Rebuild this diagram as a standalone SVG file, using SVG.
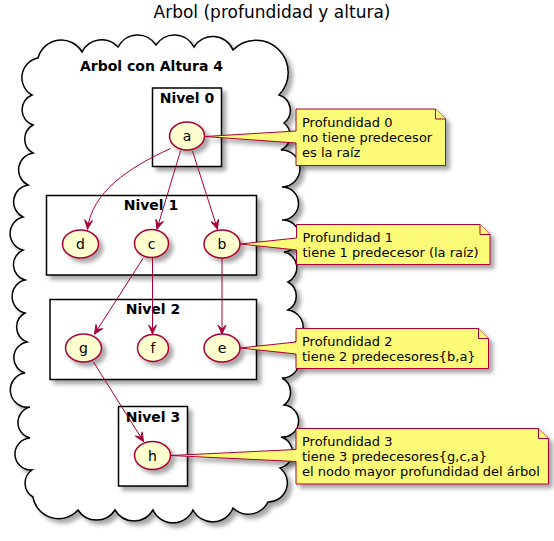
<svg xmlns="http://www.w3.org/2000/svg" width="554" height="541" viewBox="0 0 554 541">
<defs>
<filter id="sh" x="-20%" y="-20%" width="150%" height="150%">
<feGaussianBlur in="SourceAlpha" stdDeviation="2"/>
<feOffset dx="4" dy="4"/>
<feComponentTransfer><feFuncA type="linear" slope="0.35"/></feComponentTransfer>
<feMerge><feMergeNode/><feMergeNode in="SourceGraphic"/></feMerge>
</filter>
<marker id="ah" viewBox="-10 -5 11 10" refX="0" refY="0" markerWidth="11" markerHeight="10" orient="auto" markerUnits="userSpaceOnUse">
<path d="M0,0 L-9,-4 L-5,0 L-9,4 Z" fill="#A80036" stroke="#A80036" stroke-width="1"/>
</marker>
</defs>
<style>
text{font-family:"DejaVu Sans","Liberation Sans",sans-serif;fill:#000}
.title{font-size:17px}
.pk{font-size:14px;font-weight:bold}
.boxf{fill:#fff;stroke:#000;stroke-width:1.5;filter:url(#sh)}
.uc{fill:#FEFECE;stroke:#A80036;stroke-width:1.5;filter:url(#sh)}
.ut{font-size:14px;text-anchor:middle}
.note{fill:#FBFB77;stroke:#A80036;stroke-width:1;filter:url(#sh)}
.fold{fill:#FBFB77;stroke:#A80036;stroke-width:1}
.nt{font-size:13px}
.edge{fill:none;stroke:#A80036;stroke-width:1;marker-end:url(#ah)}
</style>
<text class="title" x="272" y="18" text-anchor="middle">Arbol (profundidad y altura)</text>
<g id="cloud">
<path d="M38,58 A24,24 0 0 1 82,52 A22,22 0 0 1 118,47 A22,22 0 0 1 156,45 A22,22 0 0 1 194,47 A22,22 0 0 1 233,50 A32,32 0 0 1 279,95 A16,16 0 0 1 284,123 A16,16 0 0 1 281,150 A16,16 0 0 1 282,187 A16,16 0 0 1 282,220 A16,16 0 0 1 284,252 A16,16 0 0 1 288,282 A16,16 0 0 1 288,310 A16,16 0 0 1 283,345 A16,16 0 0 1 282,378 A16,16 0 0 1 284,405 A16,16 0 0 1 281,437 A16,16 0 0 1 280,468 A19,19 0 0 1 268,502 A22,22 0 0 1 233,508 A22,22 0 0 1 193,510 A22,22 0 0 1 153,510 A22,22 0 0 1 115,510 A22,22 0 0 1 78,510 A26,26 0 0 1 33,497 A16,16 0 0 1 32,470 A16,16 0 0 1 30,438 A16,16 0 0 1 30,407 A17,17 0 0 1 25,373 A16,16 0 0 1 27,342 A16,16 0 0 1 25,313 A17,17 0 0 1 25,280 A16,16 0 0 1 23,250 A17,17 0 0 1 23,217 A17,17 0 0 1 28,185 A17,17 0 0 1 33,153 A16,16 0 0 1 33,125 A16,16 0 0 1 32,95 A20,20 0 0 1 38,58 Z" fill="#fff" stroke="#000" stroke-width="1.5" filter="url(#sh)"/>
<text class="pk" x="151.5" y="71" text-anchor="middle">Arbol con Altura 4</text>
</g>
<g id="nivel0">
<rect class="boxf" x="152.5" y="88" width="69" height="78.5"/>
<text class="pk" x="187" y="102.5" text-anchor="middle">Nivel 0</text>
</g>
<g id="nivel1">
<rect class="boxf" x="46.5" y="195.5" width="210" height="79.5"/>
<text class="pk" x="151" y="210" text-anchor="middle">Nivel 1</text>
</g>
<g id="nivel2">
<rect class="boxf" x="50" y="299.5" width="206.5" height="80"/>
<text class="pk" x="153" y="314" text-anchor="middle">Nivel 2</text>
</g>
<g id="nivel3">
<rect class="boxf" x="118.5" y="406.5" width="69" height="79.5"/>
<text class="pk" x="153" y="421.5" text-anchor="middle">Nivel 3</text>
</g>
<g id="a"><ellipse class="uc" cx="187" cy="136" rx="17.5" ry="14"/><text class="ut" x="187" y="141">a</text></g>
<g id="d"><ellipse class="uc" cx="80.5" cy="244" rx="18" ry="14"/><text class="ut" x="80.5" y="249">d</text></g>
<g id="c"><ellipse class="uc" cx="151.5" cy="243.5" rx="17" ry="14"/><text class="ut" x="151.5" y="248.5">c</text></g>
<g id="b"><ellipse class="uc" cx="222" cy="244" rx="18" ry="14"/><text class="ut" x="222" y="249">b</text></g>
<g id="g"><ellipse class="uc" cx="83.5" cy="348" rx="18" ry="14"/><text class="ut" x="83.5" y="353">g</text></g>
<g id="f"><ellipse class="uc" cx="153" cy="348" rx="15.5" ry="13.5"/><text class="ut" x="153" y="353">f</text></g>
<g id="e"><ellipse class="uc" cx="222" cy="348" rx="18" ry="14"/><text class="ut" x="222" y="353">e</text></g>
<g id="h"><ellipse class="uc" cx="152.5" cy="455.5" rx="18" ry="14"/><text class="ut" x="152.5" y="460.5">h</text></g>
<g id="connectors">
<path class="edge" d="M170.5,148.5 C128,168 92,192 87.5,229"/>
<path class="edge" d="M180.5,151 L157,229"/>
<path class="edge" d="M192.5,151 L217.5,229"/>
<path class="edge" d="M143,258.5 L94.5,334"/>
<path class="edge" d="M152.5,257.5 L152.5,334"/>
<path class="edge" d="M222,258 L222,334"/>
<path class="edge" d="M93.5,362 L143.5,441.5"/>
</g>
<g id="note0">
<path class="note" d="M296,109 L435.5,109 L445.5,119 L445.5,165.5 L296,165.5 L296,143 L205,136.5 L296,131 Z"/>
<path class="fold" d="M435.5,109 L435.5,119 L445.5,119"/>
<text class="nt" x="302" y="126.5">Profundidad 0</text>
<text class="nt" x="302" y="141.5">no tiene predecesor</text>
<text class="nt" x="302" y="156.5">es la raíz</text>
</g>
<g id="note1">
<path class="note" d="M296.5,224.5 L480,224.5 L490,234.5 L490,264.5 L296.5,264.5 L296.5,250 L240,244 L296.5,238 Z"/>
<path class="fold" d="M480,224.5 L480,234.5 L490,234.5"/>
<text class="nt" x="302.5" y="241.5">Profundidad 1</text>
<text class="nt" x="302.5" y="256.5">tiene 1 predecesor (la raíz)</text>
</g>
<g id="note2">
<path class="note" d="M296,328.5 L478.5,328.5 L488.5,338.5 L488.5,368.5 L296,368.5 L296,354 L240,348 L296,342 Z"/>
<path class="fold" d="M478.5,328.5 L478.5,338.5 L488.5,338.5"/>
<text class="nt" x="302" y="345.5">Profundidad 2</text>
<text class="nt" x="302" y="360.5">tiene 2 predecesores{b,a}</text>
</g>
<g id="note3">
<path class="note" d="M296,428.5 L538.5,428.5 L548.5,438.5 L548.5,484 L296,484 L296,461.5 L170.5,455.5 L296,449.5 Z"/>
<path class="fold" d="M538.5,428.5 L538.5,438.5 L548.5,438.5"/>
<text class="nt" x="302" y="445.5">Profundidad 3</text>
<text class="nt" x="302" y="460.5">tiene 3 predecesores{g,c,a}</text>
<text class="nt" x="302" y="475.5">el nodo mayor profundidad del árbol</text>
</g>
</svg>
